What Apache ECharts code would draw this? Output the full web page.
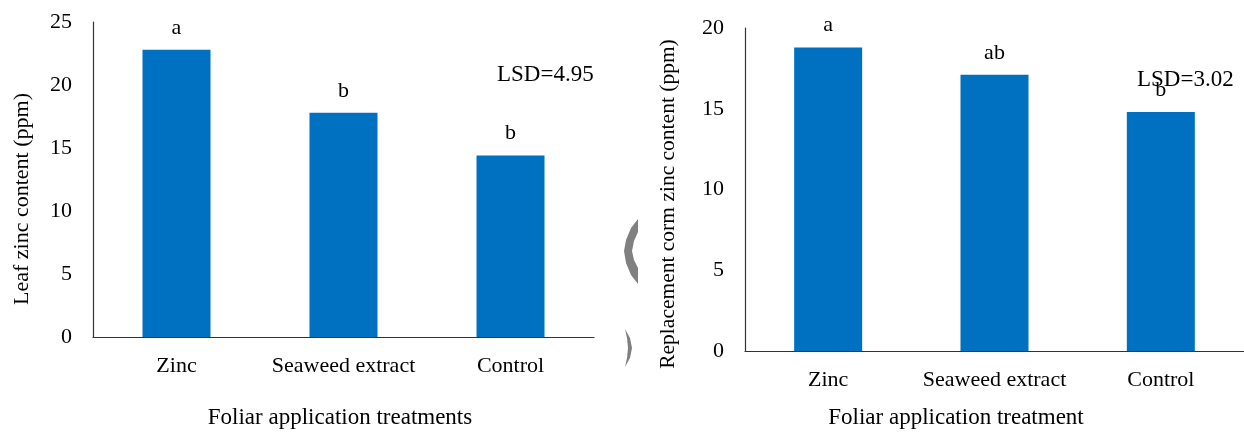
<!DOCTYPE html>
<html>
<head>
<meta charset="utf-8">
<script src="https://cdn.jsdelivr.net/npm/echarts@6/dist/echarts.min.js"></script>
<style>
  html, body { margin: 0; padding: 0; background: #fff; }
  #chart { width: 1244px; height: 432px; }
</style>
</head>
<body>
<div id="chart"></div>
<script>
// data
var categories = ['Zinc', 'Seaweed extract', 'Control'];
var leafZinc = [22.8, 17.8, 14.4];
var leafLetters = ['a', 'b', 'b'];
var cormZinc = [18.8, 17.1, 14.8];
var cormLetters = ['a', 'ab', 'b'];
var leafAxis = { min: 0, max: 25, interval: 5 };
var cormAxis = { min: 0, max: 20, interval: 5 };

var FONT = '"Liberation Serif", "Times New Roman", serif';
var BAR = '#0070C0';
var AXIS = '#333333';

var myChart = echarts.init(document.getElementById('chart'));

function xAxisFor(gridIndex) {
    return {
        type: 'category',
        gridIndex: gridIndex,
        data: categories,
        axisLine: { lineStyle: { color: AXIS, width: 1.2 } },
        axisTick: { show: false },
        axisLabel: { interval: 0, margin: 18, color: '#000', fontFamily: FONT, fontSize: 22 }
    };
}

function yAxisFor(gridIndex, range) {
    return {
        type: 'value',
        gridIndex: gridIndex,
        min: range.min,
        max: range.max,
        interval: range.interval,
        splitLine: { show: false },
        axisLine: { show: true, lineStyle: { color: AXIS, width: 1.2 } },
        axisTick: { show: false },
        axisLabel: { margin: 21, color: '#000', fontFamily: FONT, fontSize: 22 }
    };
}

function barSeries(idx, values, letters) {
    return {
        type: 'bar',
        xAxisIndex: idx,
        yAxisIndex: idx,
        data: values,
        barWidth: 68,
        itemStyle: { color: BAR },
        label: {
            show: true,
            position: 'top',
            distance: 11,
            color: '#000',
            fontFamily: FONT,
            fontSize: 22,
            formatter: function (p) { return letters[p.dataIndex]; }
        }
    };
}

function txt(x, y, text, opts) {
    opts = opts || {};
    return {
        type: 'text',
        x: x, y: y,
        rotation: opts.rotation || 0,
        style: {
            text: text,
            fill: '#000',
            font: (opts.size || 22) + 'px ' + FONT,
            textAlign: opts.align || 'center',
            textVerticalAlign: 'middle'
        }
    };
}

var option = {
    animation: false,
    backgroundColor: '#fff',
    grid: [
        { left: 93, right: 650, top: 22, bottom: 95 },
        { left: 745, right: 0, top: 28, bottom: 81 }
    ],
    xAxis: [xAxisFor(0), xAxisFor(1)],
    yAxis: [yAxisFor(0, leafAxis), yAxisFor(1, cormAxis)],
    series: [
        barSeries(0, leafZinc, leafLetters),
        barSeries(1, cormZinc, cormLetters)
    ],
    graphic: [
        txt(340, 418, 'Foliar application treatments', { size: 23 }),
        txt(956, 418, 'Foliar application treatment', { size: 23 }),
        txt(22, 199, 'Leaf zinc content (ppm)', { rotation: Math.PI / 2 }),
        txt(668, 204, 'Replacement corm zinc content (ppm)', { rotation: Math.PI / 2, size: 21.5 }),
        txt(497, 75, 'LSD=4.95', { align: 'left', size: 23 }),
        txt(1137, 80, 'LSD=3.02', { align: 'left', size: 23 }),
        // grey scan marks between the two panels
        {
            type: 'polygon',
            shape: { points: [[638, 219], [631, 228], [626, 240], [624, 251], [626, 263], [631, 275], [638, 284],
                              [638, 268], [634, 260], [632, 251], [634, 241], [638, 232]] },
            style: { fill: '#808080' }
        },
        {
            type: 'polygon',
            shape: { points: [[625, 329], [630, 338], [632, 348], [630, 358], [625, 367],
                              [627, 358], [628, 348], [627, 338]] },
            style: { fill: '#808080' }
        }
    ]
};

myChart.setOption(option);
</script>
</body>
</html>
